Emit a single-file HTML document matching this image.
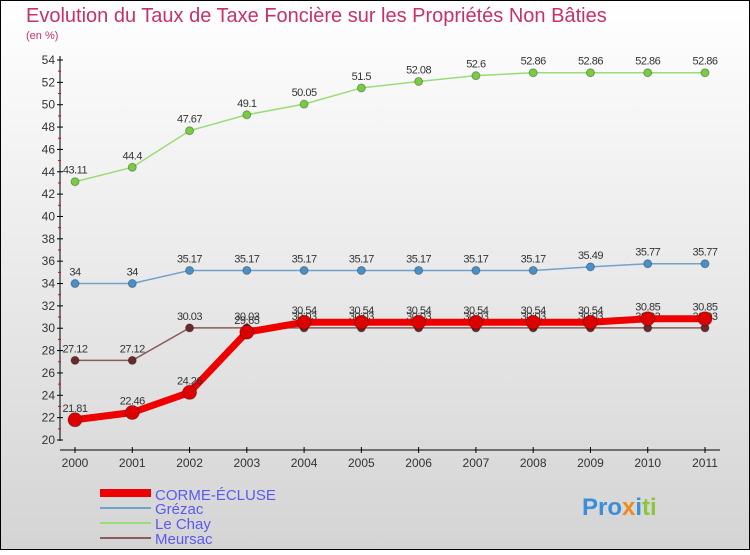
<!DOCTYPE html>
<html><head><meta charset="utf-8"><style>
body{margin:0}
svg text{font-family:"Liberation Sans",sans-serif}
</style></head><body>
<svg id="c" width="750" height="550" xmlns="http://www.w3.org/2000/svg">
<defs><linearGradient id="bg" x1="0" y1="0" x2="0" y2="1"><stop offset="0" stop-color="#ffffff"/><stop offset="1" stop-color="#d4d4d4"/></linearGradient></defs>
<rect x="0.5" y="0.5" width="749" height="549" fill="url(#bg)" stroke="#000"/>
<text x="26" y="22" font-size="20" fill="#c8306a">Evolution du Taux de Taxe Foncière sur les Propriétés Non Bâties</text>
<text x="26" y="39" font-size="11" fill="#c8306a">(en %)</text>
<g id="axes"></g><g id="series"></g>
<g>
<rect x="100" y="489" width="51" height="8" fill="#e00"/>
<text x="155" y="500" font-size="15" fill="#5a5aee">CORME-ÉCLUSE</text>
<line x1="100" y1="508" x2="151" y2="508" stroke="#6fa2cc" stroke-width="2"/>
<text x="155" y="514" font-size="15" fill="#5a5aee">Grézac</text>
<line x1="100" y1="523" x2="151" y2="523" stroke="#99dd77" stroke-width="2"/>
<text x="155" y="529" font-size="15" fill="#5a5aee">Le Chay</text>
<line x1="100" y1="538" x2="151" y2="538" stroke="#8b5a5a" stroke-width="2"/>
<text x="155" y="544" font-size="15" fill="#5a5aee">Meursac</text>
</g>
<text x="582" y="515" font-size="24" font-weight="bold"><tspan fill="#3a8fd8">Pro</tspan><tspan fill="#f08a20">x</tspan><tspan fill="#3a8fd8">i</tspan><tspan fill="#8cc63f">ti</tspan></text>
</svg>
<script>
const years=["2000","2001","2002","2003","2004","2005","2006","2007","2008","2009","2010","2011"];
const yTicks=[20,22,24,26,28,30,32,34,36,38,40,42,44,46,48,50,52,54];
const corme=[21.81,22.46,24.26,29.65,30.54,30.54,30.54,30.54,30.54,30.54,30.85,30.85];
const grezac=[34,34,35.17,35.17,35.17,35.17,35.17,35.17,35.17,35.49,35.77,35.77];
const lechay=[43.11,44.4,47.67,49.1,50.05,51.5,52.08,52.6,52.86,52.86,52.86,52.86];
const meursac=[27.12,27.12,30.03,30.03,30.03,30.03,30.03,30.03,30.03,30.03,30.03,30.03];
const NS="http://www.w3.org/2000/svg";
const xs=i=>75+i*(630/11);
const ys=v=>440-(v-20)*(380/34);
function mk(p,t,a){const e=document.createElementNS(NS,t);for(const k in a)e.setAttribute(k,a[k]);p.appendChild(e);return e;}
const ax=document.getElementById('axes');
let l=mk(ax,'line',{x1:60,y1:56,x2:60,y2:441,stroke:'#000'});


l=mk(ax,'line',{x1:60,y1:450,x2:720,y2:450,stroke:'#000'});


yTicks.forEach((v,i)=>{const y=ys(v);
 mk(ax,'line',{x1:57,y1:y,x2:63,y2:y,stroke:'#000'});
 if(i<yTicks.length-1)mk(ax,'line',{x1:58,y1:y-380/34,x2:61,y2:y-380/34,stroke:'#e00'});
 const t=mk(ax,'text',{x:55,y:y+4,'font-size':12,fill:'#333','text-anchor':'end'});t.textContent=v;
 
 });
years.forEach((yr,i)=>{const x=xs(i);
 mk(ax,'line',{x1:x,y1:447,x2:x,y2:453,stroke:'#000'});
 const t=mk(ax,'text',{x:x,y:467,'font-size':12,fill:'#333','text-anchor':'middle'});t.textContent=yr;
 
 });
const sg=document.getElementById('series');
function series(name,vals,color,dot,w,r){
 const g=mk(sg,'g',{});
 
 
 mk(g,'polyline',{points:vals.map((v,i)=>xs(i)+','+ys(v)).join(' '),fill:'none',stroke:color,'stroke-width':w,'stroke-linejoin':'round'});
 vals.forEach((v,i)=>{const c=mk(g,'circle',{cx:xs(i),cy:ys(v),r:r,fill:dot,stroke:'rgba(0,0,0,0.3)'});
  
  
  const t=mk(g,'text',{x:xs(i),y:ys(v)-8,'font-size':11,fill:'#333','text-anchor':'middle','letter-spacing':'-0.5'});t.textContent=v;
  
  });
}
series('le-chay',lechay,'#99dd77','#77cc44',1.5,4);
series('grezac',grezac,'#6fa2cc','#4a90c8',1.5,4);
series('meursac',meursac,'#8b5a5a','#6a2a2a',1.5,4);
series('corme-ecluse',corme,'#ee0000','#dd0000',7,7);
</script>
</body></html>
